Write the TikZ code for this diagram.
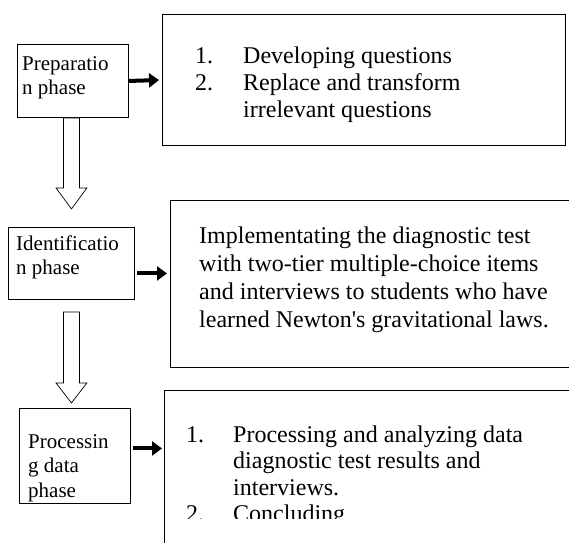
\documentclass[tikz,border=0pt]{standalone}
\usepackage{fontspec}
\setmainfont{Liberation Serif}
\usetikzlibrary{arrows.meta}

\begin{document}
\begin{tikzpicture}[x=1pt,y=-1pt,
    box/.style={draw,line width=0.9pt,anchor=north west,inner sep=0pt},
    small/.style={font=\fontsize{21}{24.5}\selectfont,anchor=base west,inner sep=0pt},
    big/.style={font=\fontsize{24}{27}\selectfont,anchor=base west,inner sep=0pt},
    thickArrow/.style={line width=4pt,-{Triangle[length=10pt,width=14pt]}},
    hollowArrow/.style={line width=0.7pt,fill=white}]
  \useasboundingbox (0,0) rectangle (569,542);
  \clip (0,0) rectangle (569,542);

  % phases
  \node[box,minimum width=111pt,minimum height=73pt] (prep) at (17,44) {};
  \node[box,minimum width=126pt,minimum height=72pt] (ident) at (8,227) {};
  \node[box,minimum width=111pt,minimum height=95pt] (proc) at (19,408) {};

  \node[small] (prepText) at (22,70) {\begin{tabular}[t]{@{}l@{}}Preparatio\\n phase\end{tabular}};
  \node[small] (identText) at (16,250) {\begin{tabular}[t]{@{}l@{}}Identificatio\\n phase\end{tabular}};
  \node[small] (procText) at (28,448) {\begin{tabular}[t]{@{}l@{}}Processin\\g data\\phase\end{tabular}};

  % activities
  \node[box,minimum width=403pt,minimum height=131pt] (prepList) at (162,14) {};
  \node[box,minimum width=430pt,minimum height=167pt] (identList) at (170,200) {};
  \node[box,minimum width=436pt,minimum height=180pt] (procList) at (164,390) {};

  \node[big] (prepItems) at (195,63) {\begin{tabular}[t]{@{}p{48pt}@{}l@{}}
    1. & Developing questions\\
    2. & Replace and transform\\
       & irrelevant questions\end{tabular}};
  \node[big,font=\fontsize{24}{28}\selectfont] (identItems) at (199,243) {\begin{tabular}[t]{@{}l@{}}
    Implementating the diagnostic test\\
    with two-tier multiple-choice items\\
    and interviews to students who have\\
    learned Newton\textquotesingle s gravitational laws.\end{tabular}};
  \begin{scope}
    \clip (164,390) rectangle (569,518);
    \node[big,font=\fontsize{24}{26.5}\selectfont] (procItems) at (186,442) {\begin{tabular}[t]{@{}p{47pt}@{}l@{}}
      1. & Processing and analyzing data\\
         & diagnostic test results and\\
         & interviews.\\
      2. & Concluding\end{tabular}};
  \end{scope}

  % arrows
  \coordinate (identOut) at ([yshift=-10pt]ident.east);
  \coordinate (procOut) at ([yshift=7.5pt]proc.east);
  \draw[thickArrow,shorten >=3pt] (prep.east) -- (prepList.west);
  \draw[thickArrow,shorten <=2pt,shorten >=3pt] (identOut) -- (identOut -| identList.west);
  \draw[thickArrow,shorten <=2pt,shorten >=2pt] (procOut) -- (procOut -| procList.west);

  \draw[hollowArrow] ([xshift=-1.5pt]prep.south) ++(-8,0) -- ++(0,70) -- ++(-7.5,0) -- ++(15.5,21)
    -- ++(15.5,-21) -- ++(-7.5,0) -- ++(0,-70) -- cycle;
  \draw[hollowArrow] ([yshift=-12pt]ident.south) ++(-8,0) -- ++(0,71) -- ++(-7.5,0) -- ++(15.5,20)
    -- ++(15.5,-20) -- ++(-7.5,0) -- ++(0,-71) -- cycle;
\end{tikzpicture}
\end{document}
